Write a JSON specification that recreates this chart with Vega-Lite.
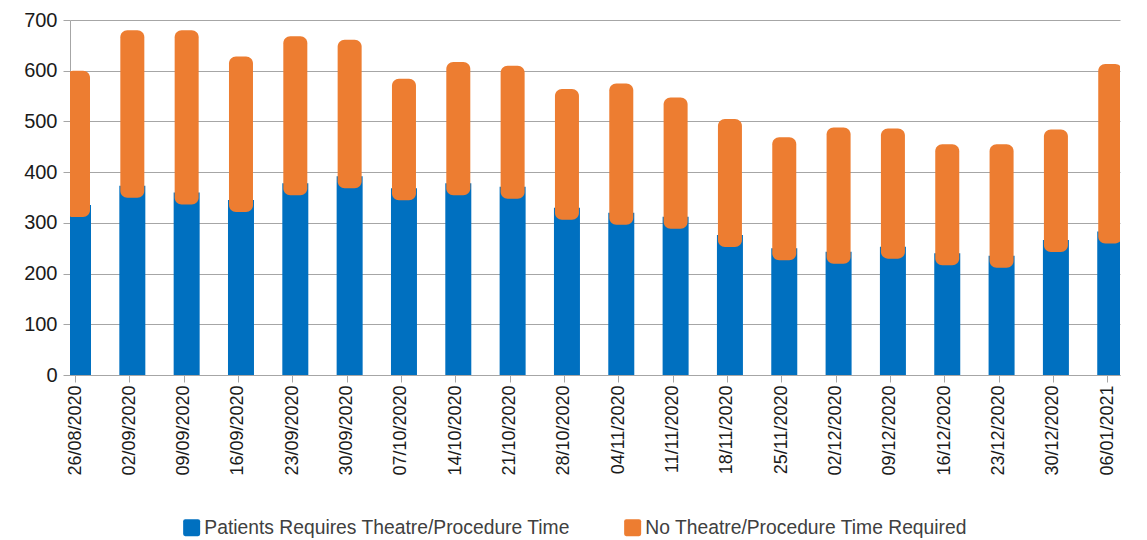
{
  "$schema": "https://vega.github.io/schema/vega-lite/v6.json",
  "width": 1050,
  "height": 355,
  "autosize": {"type": "none"},
  "padding": {"left": 70, "top": 20, "right": 27, "bottom": 165},
  "background": "white",
  "config": {"view": {"stroke": null}, "font": "Liberation Sans"},
  "data": {
    "values": [
      {"date": "2020-08-26", "series": "Patients Requires Theatre/Procedure Time", "value": 335},
      {"date": "2020-08-26", "series": "No Theatre/Procedure Time Required", "value": 265},
      {"date": "2020-09-02", "series": "Patients Requires Theatre/Procedure Time", "value": 373},
      {"date": "2020-09-02", "series": "No Theatre/Procedure Time Required", "value": 307},
      {"date": "2020-09-09", "series": "Patients Requires Theatre/Procedure Time", "value": 360},
      {"date": "2020-09-09", "series": "No Theatre/Procedure Time Required", "value": 320},
      {"date": "2020-09-16", "series": "Patients Requires Theatre/Procedure Time", "value": 345},
      {"date": "2020-09-16", "series": "No Theatre/Procedure Time Required", "value": 283},
      {"date": "2020-09-23", "series": "Patients Requires Theatre/Procedure Time", "value": 378},
      {"date": "2020-09-23", "series": "No Theatre/Procedure Time Required", "value": 290},
      {"date": "2020-09-30", "series": "Patients Requires Theatre/Procedure Time", "value": 392},
      {"date": "2020-09-30", "series": "No Theatre/Procedure Time Required", "value": 269},
      {"date": "2020-10-07", "series": "Patients Requires Theatre/Procedure Time", "value": 368},
      {"date": "2020-10-07", "series": "No Theatre/Procedure Time Required", "value": 216},
      {"date": "2020-10-14", "series": "Patients Requires Theatre/Procedure Time", "value": 378},
      {"date": "2020-10-14", "series": "No Theatre/Procedure Time Required", "value": 239},
      {"date": "2020-10-21", "series": "Patients Requires Theatre/Procedure Time", "value": 371},
      {"date": "2020-10-21", "series": "No Theatre/Procedure Time Required", "value": 239},
      {"date": "2020-10-28", "series": "Patients Requires Theatre/Procedure Time", "value": 330},
      {"date": "2020-10-28", "series": "No Theatre/Procedure Time Required", "value": 234},
      {"date": "2020-11-04", "series": "Patients Requires Theatre/Procedure Time", "value": 320},
      {"date": "2020-11-04", "series": "No Theatre/Procedure Time Required", "value": 255},
      {"date": "2020-11-11", "series": "Patients Requires Theatre/Procedure Time", "value": 312},
      {"date": "2020-11-11", "series": "No Theatre/Procedure Time Required", "value": 235},
      {"date": "2020-11-18", "series": "Patients Requires Theatre/Procedure Time", "value": 276},
      {"date": "2020-11-18", "series": "No Theatre/Procedure Time Required", "value": 229},
      {"date": "2020-11-25", "series": "Patients Requires Theatre/Procedure Time", "value": 250},
      {"date": "2020-11-25", "series": "No Theatre/Procedure Time Required", "value": 219},
      {"date": "2020-12-02", "series": "Patients Requires Theatre/Procedure Time", "value": 243},
      {"date": "2020-12-02", "series": "No Theatre/Procedure Time Required", "value": 245},
      {"date": "2020-12-09", "series": "Patients Requires Theatre/Procedure Time", "value": 253},
      {"date": "2020-12-09", "series": "No Theatre/Procedure Time Required", "value": 233},
      {"date": "2020-12-16", "series": "Patients Requires Theatre/Procedure Time", "value": 240},
      {"date": "2020-12-16", "series": "No Theatre/Procedure Time Required", "value": 215},
      {"date": "2020-12-23", "series": "Patients Requires Theatre/Procedure Time", "value": 235},
      {"date": "2020-12-23", "series": "No Theatre/Procedure Time Required", "value": 220},
      {"date": "2020-12-30", "series": "Patients Requires Theatre/Procedure Time", "value": 266},
      {"date": "2020-12-30", "series": "No Theatre/Procedure Time Required", "value": 218},
      {"date": "2021-01-06", "series": "Patients Requires Theatre/Procedure Time", "value": 283},
      {"date": "2021-01-06", "series": "No Theatre/Procedure Time Required", "value": 330}
    ]
  },
  "transform": [
    {"stack": "value", "groupby": ["date"], "sort": [{"field": "series", "order": "descending"}], "as": ["v0", "v1"]}
  ],
  "encoding": {
    "x": {
      "field": "date",
      "type": "temporal",
      "scale": {
        "type": "utc",
        "domain": [
          {"year": 2020, "month": 8, "date": 26, "utc": true},
          {"year": 2021, "month": 1, "date": 7, "utc": true}
        ]
      },
      "axis": {
        "title": null,
        "grid": false,
        "values": [
          {"year": 2020, "month": 8, "date": 26, "utc": true},
          {"year": 2020, "month": 9, "date": 2, "utc": true},
          {"year": 2020, "month": 9, "date": 9, "utc": true},
          {"year": 2020, "month": 9, "date": 16, "utc": true},
          {"year": 2020, "month": 9, "date": 23, "utc": true},
          {"year": 2020, "month": 9, "date": 30, "utc": true},
          {"year": 2020, "month": 10, "date": 7, "utc": true},
          {"year": 2020, "month": 10, "date": 14, "utc": true},
          {"year": 2020, "month": 10, "date": 21, "utc": true},
          {"year": 2020, "month": 10, "date": 28, "utc": true},
          {"year": 2020, "month": 11, "date": 4, "utc": true},
          {"year": 2020, "month": 11, "date": 11, "utc": true},
          {"year": 2020, "month": 11, "date": 18, "utc": true},
          {"year": 2020, "month": 11, "date": 25, "utc": true},
          {"year": 2020, "month": 12, "date": 2, "utc": true},
          {"year": 2020, "month": 12, "date": 9, "utc": true},
          {"year": 2020, "month": 12, "date": 16, "utc": true},
          {"year": 2020, "month": 12, "date": 23, "utc": true},
          {"year": 2020, "month": 12, "date": 30, "utc": true},
          {"year": 2021, "month": 1, "date": 6, "utc": true}
        ],
        "labelExpr": "utcFormat(datum.value, '%d/%m/%Y')",
        "labelAngle": 270,
        "labelAlign": "right",
        "labelBaseline": "middle",
        "labelFontSize": 18,
        "labelColor": "#1a1a1a",
        "labelPadding": 3,
        "labelOverlap": false,
        "labelFlush": false,
        "tickSize": 7,
        "tickColor": "#a6a6a6",
        "domainColor": "#a6a6a6"
      }
    },
    "y": {
      "field": "v1",
      "type": "quantitative",
      "scale": {"domain": [0, 700], "nice": false},
      "axis": {
        "title": null,
        "values": [0, 100, 200, 300, 400, 500, 600, 700],
        "grid": true,
        "gridColor": "#a6a6a6",
        "tickColor": "#a6a6a6",
        "domainColor": "#a6a6a6",
        "tickSize": 7,
        "labelFontSize": 20,
        "labelColor": "#1a1a1a",
        "labelPadding": 6
      }
    },
    "y2": {"field": "v0"},
    "color": {
      "field": "series",
      "type": "nominal",
      "scale": {
        "domain": ["Patients Requires Theatre/Procedure Time", "No Theatre/Procedure Time Required"],
        "range": ["#0070C0", "#ED7D31"]
      },
      "legend": {
        "title": null,
        "orient": "none",
        "legendX": 112,
        "legendY": 498,
        "direction": "horizontal",
        "symbolType": "M -0.75 -1 L 0.75 -1 Q 1 -1 1 -0.75 L 1 0.75 Q 1 1 0.75 1 L -0.75 1 Q -1 1 -1 0.75 L -1 -0.75 Q -1 -1 -0.75 -1 Z",
        "symbolSize": 289,
        "symbolStrokeWidth": 0,
        "symbolOpacity": 1,
        "labelFontSize": 19.3,
        "labelColor": "#404040",
        "labelOffset": 3,
        "labelLimit": 500,
        "columnPadding": 52
      }
    }
  },
  "layer": [
    {
      "transform": [{"filter": "datum.series === 'Patients Requires Theatre/Procedure Time'"}],
      "mark": {"type": "bar", "width": 26, "xOffset": 3, "clip": true}
    },
    {
      "transform": [{"filter": "datum.series === 'No Theatre/Procedure Time Required'"}],
      "mark": {"type": "bar", "width": 24, "xOffset": 3, "clip": true, "cornerRadius": 7, "y2Offset": 12}
    }
  ]
}
